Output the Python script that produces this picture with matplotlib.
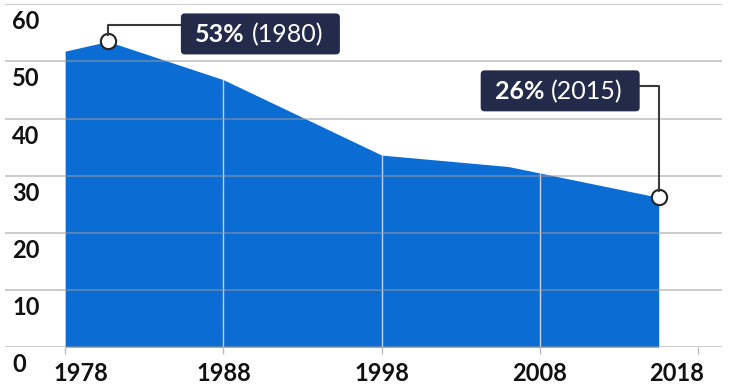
import numpy as np
import matplotlib
matplotlib.use("Agg")
import matplotlib.pyplot as plt
from matplotlib.patches import FancyBboxPatch
from matplotlib.lines import Line2D
from matplotlib.transforms import ScaledTranslation

# data
years = [1978, 1980.7, 1988, 1998, 2006, 2015.5]
share = [51.8, 53.5, 46.8, 33.6, 31.6, 26.2]
x_ticks = [1978, 1988, 1998, 2008, 2018]
y_ticks = [0, 10, 20, 30, 40, 50, 60]
callouts = [(1980.7, 53.5, "53%", "(1980)"), (2015.5, 26.2, "26%", "(2015)")]

blue = "#0b6dd3"
navy = "#232a4a"
font = "Lato"

fig = plt.figure(figsize=(7.29, 3.86), dpi=100)
W, H = 729, 386
ax = fig.add_axes([5 / W, 1 - 347 / H, 717 / W, (347 - 4.3) / H])
ax.set_xlim(1974.2, 2019.5)
ax.set_ylim(0, 60)
for s in ax.spines.values():
    s.set_visible(False)

ax.fill_between(years, share, color=blue, lw=0, zorder=1)

# vertical guides only inside the area
for yr in x_ticks[1:4]:
    ax.plot([yr, yr], [0, np.interp(yr, years, share)], color="#c6d2e6", lw=1, zorder=2)

# horizontal grid over everything
for v in y_ticks:
    ax.axhline(v, color="#9a9a9a", lw=1.2, alpha=0.6, zorder=3)
    ax.annotate(str(v), xy=(0, v), xycoords=("axes fraction", "data"),
                xytext=(7, -6), textcoords="offset pixels", ha="left", va="top",
                fontsize=17, fontweight="bold", family=font, color="#111111",
                annotation_clip=False)

ax.set_yticks([])
ax.set_xticks(x_ticks)
ax.set_xticklabels([str(t) for t in x_ticks], fontsize=17, fontweight="bold",
                   family=font, color="#111111")
ax.tick_params(axis="x", length=5, width=1, color="#bbbbbb", pad=6)
# end labels nudged inward
labs = ax.get_xticklabels()
labs[0].set_transform(labs[0].get_transform() + ScaledTranslation(16 / 100, 0, fig.dpi_scale_trans))
labs[-1].set_transform(labs[-1].get_transform() + ScaledTranslation(-22 / 100, 0, fig.dpi_scale_trans))

fig.canvas.draw()
r = fig.canvas.get_renderer()

def callout(x, y, bold, rest, side):
    px, py = ax.transData.transform((x, y))
    if side == "right":
        left, top = px + 73, py + 28
        line_y = py + 16
        xs, ys = [px, px, left], [py + 6, line_y, line_y]
    else:
        left, top = px - 19 - 159, py + 127
        line_y = py + 111
        xs, ys = [px, px, px - 19], [py + 6, line_y, line_y]
    fig.add_artist(Line2D(xs, ys, transform=None, color="#3a3a3a", lw=1.5, zorder=5))
    box = FancyBboxPatch((left, top - 41), 159, 41, boxstyle="round,pad=0,rounding_size=4",
                         transform=None, fc=navy, ec="none", zorder=6)
    fig.add_artist(box)
    t1 = fig.text(left + 14, top - 21, bold, transform=None, fontsize=18,
                  fontweight="bold", family=font, color="white", va="center", zorder=7)
    ext = t1.get_window_extent(r)
    fig.text(ext.x1 + 7, top - 21, rest, transform=None, fontsize=18,
             family=font, color="white", va="center", zorder=7)

callout(*callouts[0], "right")
callout(*callouts[1], "left")

xs = [c[0] for c in callouts]
ys = [c[1] for c in callouts]
ax.plot(xs, ys, "o", ms=11, mfc="white", mec="#222222", mew=1.5, zorder=8, clip_on=False)

fig.savefig("out.png", dpi=100)
